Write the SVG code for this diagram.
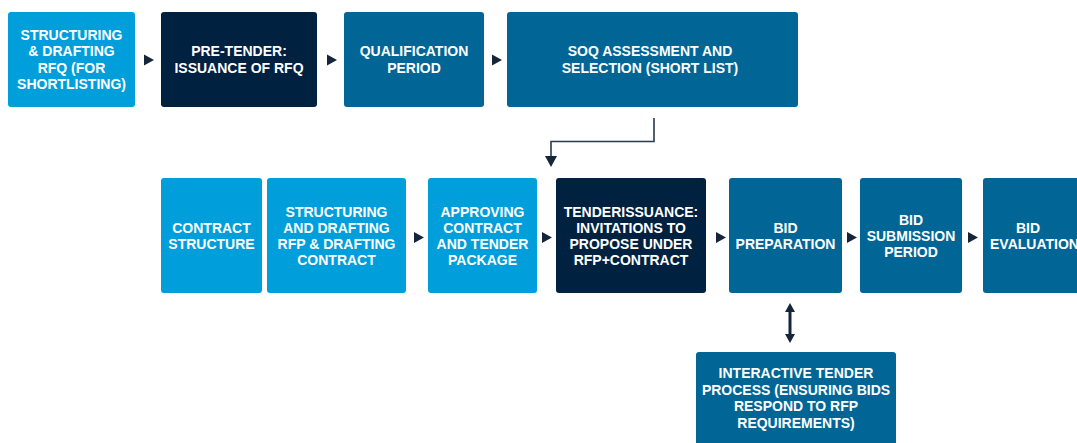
<svg xmlns="http://www.w3.org/2000/svg" xmlns:xlink="http://www.w3.org/1999/xlink" width="1077" height="443" viewBox="0 0 1077 443">
<style>
.lt{fill:#009FDB}
.nv{fill:#012141}
.md{fill:#016696}
.t{fill:#ffffff;font-family:"Liberation Sans",Arial,sans-serif;font-weight:bold;font-size:14px;text-anchor:middle}
.tri{fill:#15263b}
.ln{fill:none;stroke:#2a3a4e;stroke-width:1.6}
</style>
<defs>
<path id="tri" d="M0,-5.5 L10,0 L0,5.5 Z"/>
</defs>
<rect width="1077" height="443" fill="#ffffff"/>

<g id="n1"><rect class="lt" x="8" y="12" width="127" height="95" rx="3"/>
<text class="t"><tspan x="71.5" y="39.75">STRUCTURING</tspan><tspan x="71.5" y="56.25">&amp; DRAFTING</tspan><tspan x="71.5" y="72.75">RFQ (FOR</tspan><tspan x="71.5" y="89.25">SHORTLISTING)</tspan></text></g>

<g id="n2"><rect class="nv" x="161" y="12" width="156" height="95" rx="3"/>
<text class="t"><tspan x="239" y="56.25">PRE-TENDER:</tspan><tspan x="239" y="72.75">ISSUANCE OF RFQ</tspan></text></g>

<g id="n3"><rect class="md" x="344" y="12" width="140" height="95" rx="3"/>
<text class="t"><tspan x="414" y="56.25">QUALIFICATION</tspan><tspan x="414" y="72.75">PERIOD</tspan></text></g>

<g id="n4"><rect class="md" x="507" y="12" width="291" height="95" rx="3"/>
<text class="t"><tspan x="650" y="56.25">SOQ ASSESSMENT AND</tspan><tspan x="650" y="72.75">SELECTION (SHORT LIST)</tspan></text></g>

<g id="n5"><rect class="lt" x="161" y="178" width="101" height="115" rx="3"/>
<text class="t"><tspan x="211.5" y="232.5">CONTRACT</tspan><tspan x="211.5" y="248.5">STRUCTURE</tspan></text></g>

<g id="n6"><rect class="lt" x="267" y="178" width="139" height="115" rx="3"/>
<text class="t"><tspan x="336.5" y="216.5">STRUCTURING</tspan><tspan x="336.5" y="232.5">AND DRAFTING</tspan><tspan x="336.5" y="248.5">RFP &amp; DRAFTING</tspan><tspan x="336.5" y="264.5">CONTRACT</tspan></text></g>

<g id="n7"><rect class="lt" x="428" y="178" width="109" height="115" rx="3"/>
<text class="t"><tspan x="482.5" y="216.5">APPROVING</tspan><tspan x="482.5" y="232.5">CONTRACT</tspan><tspan x="482.5" y="248.5">AND TENDER</tspan><tspan x="482.5" y="264.5">PACKAGE</tspan></text></g>

<g id="n8"><rect class="nv" x="556" y="178" width="150" height="115" rx="3"/>
<text class="t"><tspan x="631" y="216.5">TENDERISSUANCE:</tspan><tspan x="631" y="232.5">INVITATIONS TO</tspan><tspan x="631" y="248.5">PROPOSE UNDER</tspan><tspan x="631" y="264.5">RFP+CONTRACT</tspan></text></g>

<g id="n9"><rect class="md" x="729" y="178" width="113" height="115" rx="3"/>
<text class="t"><tspan x="785.5" y="232.5">BID</tspan><tspan x="785.5" y="248.5">PREPARATION</tspan></text></g>

<g id="n10"><rect class="md" x="860" y="178" width="102" height="115" rx="3"/>
<text class="t"><tspan x="911" y="224.5">BID</tspan><tspan x="911" y="240.5">SUBMISSION</tspan><tspan x="911" y="256.5">PERIOD</tspan></text></g>

<g id="n11"><rect class="md" x="983" y="178" width="110" height="115" rx="3"/>
<text class="t"><tspan x="1028" y="232.5">BID</tspan><tspan x="990" y="248.5" style="text-anchor:start">EVALUATION</tspan></text></g>

<g id="n12"><rect class="md" x="696" y="352" width="200" height="95" rx="3"/>
<text class="t"><tspan x="796" y="378">INTERACTIVE TENDER</tspan><tspan x="796" y="394.5">PROCESS (ENSURING BIDS</tspan><tspan x="796" y="411">RESPOND TO RFP</tspan><tspan x="796" y="427.5">REQUIREMENTS)</tspan></text></g>

<g id="connectors">
<use xlink:href="#tri" class="tri" x="144" y="60"/>
<use xlink:href="#tri" class="tri" x="327" y="60"/>
<use xlink:href="#tri" class="tri" x="492" y="60"/>
<use xlink:href="#tri" class="tri" x="414" y="237.5"/>
<use xlink:href="#tri" class="tri" x="542" y="237.5"/>
<use xlink:href="#tri" class="tri" x="716" y="237.5"/>
<use xlink:href="#tri" class="tri" x="847" y="237.5"/>
<use xlink:href="#tri" class="tri" x="968" y="237.5"/>
<path class="ln" d="M654,118 V141.5 H551 V157"/>
<path class="tri" d="M545,156 L557,156 L551,167 Z"/>
<line x1="790" y1="311" x2="790" y2="335" stroke="#15263b" stroke-width="3"/>
<path class="tri" d="M785,312 L795,312 L790,303 Z"/>
<path class="tri" d="M785,334 L795,334 L790,343 Z"/>
</g>
</svg>
